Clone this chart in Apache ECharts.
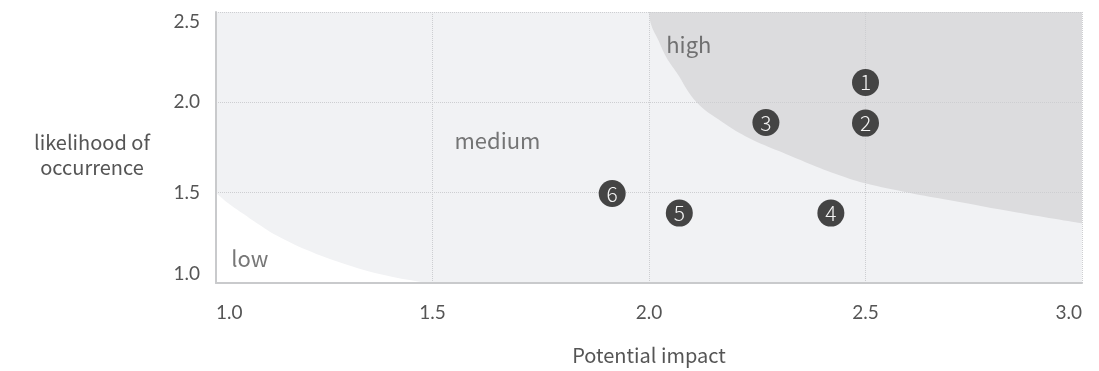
<!DOCTYPE html>
<html>
<head>
<meta charset="utf-8">
<script src="https://cdn.jsdelivr.net/npm/echarts@6/dist/echarts.min.js"></script>
<style>
  html, body { margin: 0; padding: 0; background: #ffffff; }
  #chart { width: 1099px; height: 371px; }
</style>
</head>
<body>
<div id="chart"></div>
<script>
// Risk points: [impact, likelihood, id]
const riskIds = ['1', '2', '3', '4', '5', '6'];
const riskImpact = [2.5, 2.5, 2.27, 2.42, 2.07, 1.915];
const riskLikelihood = [2.11, 1.885, 1.888, 1.387, 1.387, 1.495];

// Boundary of the "low" zone (below this curve)
const lowEdgeX = [1.0, 1.03, 1.062, 1.10, 1.139, 1.21, 1.292, 1.38, 1.477, 1.5];
const lowEdgeY = [1.5, 1.438, 1.384, 1.322, 1.264, 1.182, 1.109, 1.048, 1.004, 1.0];

// Boundary of the "high" zone (above this curve)
const highEdgeX = [2.0, 2.005, 2.02, 2.04, 2.063, 2.11, 2.17, 2.233, 2.30, 2.36, 2.43, 2.499, 2.6, 2.695, 2.85, 3.0];
const highEdgeY = [2.5, 2.43, 2.352, 2.25, 2.168, 2.0, 1.89, 1.80, 1.73, 1.67, 1.605, 1.552, 1.50, 1.458, 1.39, 1.33];

// Zone captions
const zoneNames = ['high', 'medium', 'low'];
const zoneAt = [[2.092, 2.32], [1.65, 1.79], [1.078, 1.137]];

const xTicks = [1.0, 1.5, 2.0, 2.5, 3.0];
const yTicks = [1.0, 1.5, 2.0, 2.5];

const TICK_FONT = 'Lato, "Liberation Sans", sans-serif';
const FONT = '"Noto Sans CJK SC", "Source Sans Pro", sans-serif';
const TEXT = '#555555';

const zip = (xs, ys) => xs.map((x, i) => [x, ys[i]]);

const chart = echarts.init(document.getElementById('chart'), null, { renderer: 'canvas' });

chart.setOption({
  animation: false,
  backgroundColor: '#ffffff',
  grid: {
    left: 216, right: 17, top: 12, bottom: 88,
    show: true, backgroundColor: '#f1f2f4', borderWidth: 0
  },
  xAxis: {
    type: 'value',
    min: xTicks[0], max: xTicks[xTicks.length - 1], interval: 0.5,
    z: 5,
    name: 'Potential impact',
    nameLocation: 'middle',
    nameGap: 62,
    nameTextStyle: { color: TEXT, fontSize: 20, fontFamily: FONT },
    axisLine: { show: true, lineStyle: { color: '#c9cacc', width: 2 } },
    axisTick: { show: false },
    axisLabel: {
      color: TEXT, fontSize: 19, fontFamily: TICK_FONT, margin: 20,
      formatter: v => v.toFixed(1),
      alignMinLabel: 'left', alignMaxLabel: 'right'
    },
    splitLine: { show: true, lineStyle: { color: '#cdced1', type: 'dotted', width: 1 } }
  },
  yAxis: {
    type: 'value',
    min: yTicks[0], max: yTicks[yTicks.length - 1], interval: 0.5,
    z: 5,
    axisLine: { show: true, lineStyle: { color: '#c9cacc', width: 2 } },
    axisTick: { show: false },
    axisLabel: {
      color: TEXT, fontSize: 19, fontFamily: TICK_FONT, margin: 16,
      formatter: v => v.toFixed(1),
      verticalAlignMinLabel: 'bottom', verticalAlignMaxLabel: 'top'
    },
    splitLine: { show: true, lineStyle: { color: '#cdced1', type: 'dotted', width: 1 } }
  },
  graphic: [{
    type: 'text',
    x: 92, y: 155,
    style: {
      text: 'likelihood of\noccurrence',
      fill: TEXT, fontSize: 20, fontFamily: FONT,
      align: 'center', verticalAlign: 'middle', lineHeight: 25
    }
  }],
  series: [
    {
      type: 'line', name: 'low zone',
      data: zip(lowEdgeX, lowEdgeY),
      smooth: 0.4, symbol: 'none', z: 1,
      lineStyle: { width: 0 },
      areaStyle: { color: '#ffffff', opacity: 1, origin: 'start' },
      silent: true
    },
    {
      type: 'line', name: 'high zone',
      data: zip(highEdgeX, highEdgeY),
      smooth: 0.4, symbol: 'none', z: 1,
      lineStyle: { width: 0 },
      areaStyle: { color: '#dcdcde', opacity: 1, origin: 'end' },
      silent: true
    },
    {
      type: 'scatter', name: 'zones',
      data: zoneNames.map((n, i) => ({ value: zoneAt[i], name: n })),
      symbolSize: 1, z: 6,
      itemStyle: { color: 'rgba(0,0,0,0)' },
      label: {
        show: true, position: 'inside',
        formatter: p => p.name,
        color: TEXT, fontSize: 22, fontFamily: FONT
      },
      silent: true
    },
    {
      type: 'scatter', name: 'risks',
      data: riskIds.map((id, i) => ({ value: [riskImpact[i], riskLikelihood[i]], name: id })),
      symbol: 'circle', symbolSize: 27, z: 10,
      itemStyle: { color: '#444444', opacity: 1 },
      label: {
        show: true, position: 'inside',
        formatter: p => p.name,
        color: '#f4f4f4', fontSize: 21, fontFamily: FONT, fontWeight: 300
      }
    }
  ]
});
</script>
</body>
</html>
